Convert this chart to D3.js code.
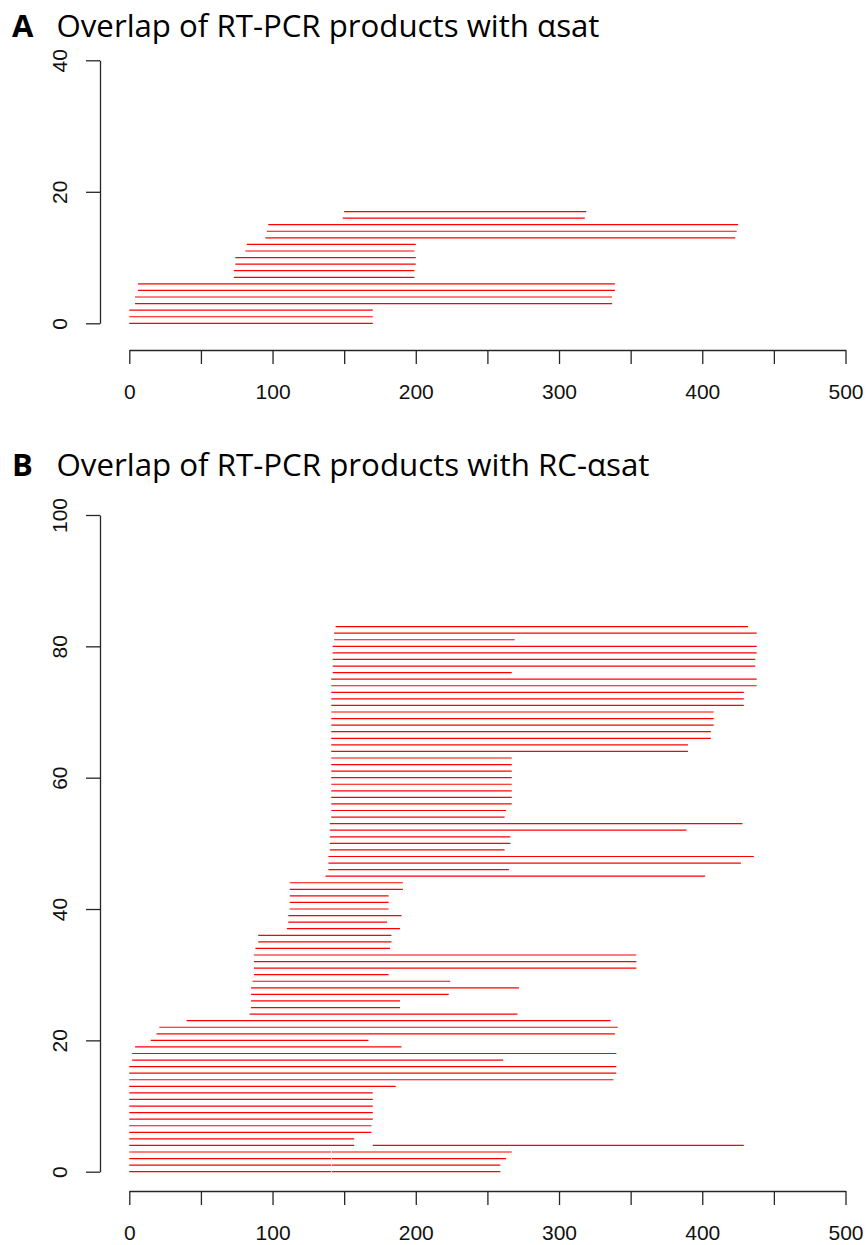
<!DOCTYPE html>
<html>
<head>
<meta charset="utf-8">
<script src="https://cdn.jsdelivr.net/npm/d3@7/dist/d3.min.js"></script>
<style>
  body { margin: 0; background: #fff; }
</style>
</head>
<body>
<script>

// panel A: one segment per row
var aRows   = [0, 1, 2, 3, 4, 5, 6, 7, 8, 9, 10, 11, 12, 13, 14, 15, 16, 17];
var aStarts = [0, 0, 0, 4, 4, 6, 6, 73, 73, 74, 74, 81, 82, 95, 96, 97, 149, 150];
var aEnds   = [170, 170, 170, 337, 337, 339, 339, 199, 199, 200, 200, 199, 200, 423, 424, 425, 318, 319];

// panel B: rows 0-4 carry two segments each
var bRows = [0, 0, 1, 1, 2, 2, 3, 3, 4, 4,
  5, 6, 7, 8, 9, 10, 11, 12, 13, 14, 15, 16, 17, 18, 19, 20, 21, 22, 23, 24,
  25, 26, 27, 28, 29, 30, 31, 32, 33, 34, 35, 36, 37, 38, 39, 40, 41, 42, 43, 44,
  45, 46, 47, 48, 49, 50, 51, 52, 53, 54, 55, 56, 57, 58, 59, 60, 61, 62, 63, 64,
  65, 66, 67, 68, 69, 70, 71, 72, 73, 74, 75, 76, 77, 78, 79, 80, 81, 82, 83];
var bStarts = [0, 141.5, 0, 141.5, 0, 141.5, 0, 141.5, 0, 170,
  0, 0, 0, 0, 0, 0, 0, 0, 0, 0, 0, 0, 2, 2, 4, 15, 19, 21, 40, 84,
  85, 85, 85, 85, 86, 87, 87, 87, 87, 88, 90, 90, 110, 111, 111, 112, 112, 112, 112, 112,
  137, 139, 139, 139, 140, 140, 140, 140, 140, 141, 141, 141, 141, 141, 141, 141, 141, 141, 141, 141,
  141, 141, 141, 141, 141, 141, 141, 141, 141, 141, 141, 142, 142, 142, 142, 142, 143, 143, 144];
var bEnds = [141, 259, 141, 259, 141, 263, 141, 267, 157, 429,
  157, 169, 169, 170, 170, 170, 170, 170, 186, 338, 340, 340, 261, 340, 190, 167, 339, 341, 336, 271,
  189, 189, 223, 272, 224, 181, 354, 354, 354, 182, 183, 183, 189, 180, 190, 181, 181, 181, 191, 191,
  402, 265, 427, 436, 262, 266, 266, 389, 428, 262, 263, 267, 267, 267, 267, 267, 267, 267, 267, 390,
  390, 406, 406, 408, 408, 408, 429, 429, 429, 438, 438, 267, 437, 437, 438, 438, 269, 438, 432];

var xTicks = [0, 50, 100, 150, 200, 250, 300, 350, 400, 450, 500];
var aYTicks = [0, 20, 40];
var bYTicks = [0, 20, 40, 60, 80, 100];

var width = 868, height = 1245;
var axisColor = "#262626";
var segColor = "#FF0000";
var tickFont = "'Liberation Sans', Arial, sans-serif";
var titleFont = "'Open Sans', 'Noto Sans', sans-serif";

var svg = d3.select("body").append("svg")
  .attr("width", width)
  .attr("height", height);

svg.append("rect")
  .attr("width", width)
  .attr("height", height)
  .attr("fill", "#fff");

var x = d3.scaleLinear().domain([0, 500]).range([129.3, 845.5]);

var drawPanel = function(p) {
  var y = d3.scaleLinear().domain([0, p.yMax]).range([p.yBottom, p.yTop]);
  var g = svg.append("g");

  // title: bold panel letter + text
  g.append("text")
    .attr("x", 12)
    .attr("y", p.titleY)
    .attr("font-family", titleFont)
    .attr("font-weight", 700)
    .attr("font-size", 31)
    .text(p.letter);
  g.append("text")
    .attr("x", 56.5)
    .attr("y", p.titleY)
    .attr("font-family", titleFont)
    .attr("font-size", 31)
    .attr("textLength", p.titleWidth)
    .attr("lengthAdjust", "spacingAndGlyphs")
    .text(p.title);

  var segs = p.rows.map(function(r, i) {
    return {row: r, start: p.starts[i], end: p.ends[i]};
  });

  g.selectAll("line.seg")
    .data(segs)
    .enter()
    .append("line")
    .attr("class", "seg")
    .attr("x1", function(d) { return x(d.start); })
    .attr("x2", function(d) { return x(d.end); })
    .attr("y1", function(d) { return y(d.row); })
    .attr("y2", function(d) { return y(d.row); })
    .attr("stroke", segColor)
    .attr("stroke-width", 1.2);

  var xAxis = g.append("g")
    .attr("transform", "translate(0," + p.xAxisY + ")")
    .call(d3.axisBottom(x)
      .tickValues(xTicks)
      .tickSize(14)
      .tickSizeOuter(0)
      .tickPadding(20)
      .tickFormat(function(d) { return d % 100 === 0 ? d : ""; }));

  var yAxis = g.append("g")
    .attr("transform", "translate(100,0)")
    .call(d3.axisLeft(y)
      .tickValues(p.yTicks)
      .tickSize(14)
      .tickSizeOuter(0));

  yAxis.selectAll(".tick text")
    .attr("transform", "rotate(-90)")
    .attr("x", 0)
    .attr("y", -33)
    .attr("dy", 0)
    .attr("text-anchor", "middle");

  [xAxis, yAxis].forEach(function(a) {
    a.selectAll("path, line")
      .attr("stroke", axisColor)
      .attr("stroke-width", 1.3);
    a.selectAll("text")
      .attr("fill", "#111")
      .attr("font-family", tickFont)
      .attr("font-size", 21);
  });
};

drawPanel({
  letter: "A",
  title: "Overlap of RT-PCR products with \u03b1sat",
  titleY: 36.7,
  titleWidth: 543,
  rows: aRows, starts: aStarts, ends: aEnds,
  yMax: 40, yTicks: aYTicks,
  yBottom: 323.3, yTop: 60.3,
  xAxisY: 350
});

drawPanel({
  letter: "B",
  title: "Overlap of RT-PCR products with RC-\u03b1sat",
  titleY: 476,
  titleWidth: 593,
  rows: bRows, starts: bStarts, ends: bEnds,
  yMax: 100, yTicks: bYTicks,
  yBottom: 1171.7, yTop: 515,
  xAxisY: 1191
});

</script>
</body>
</html>
